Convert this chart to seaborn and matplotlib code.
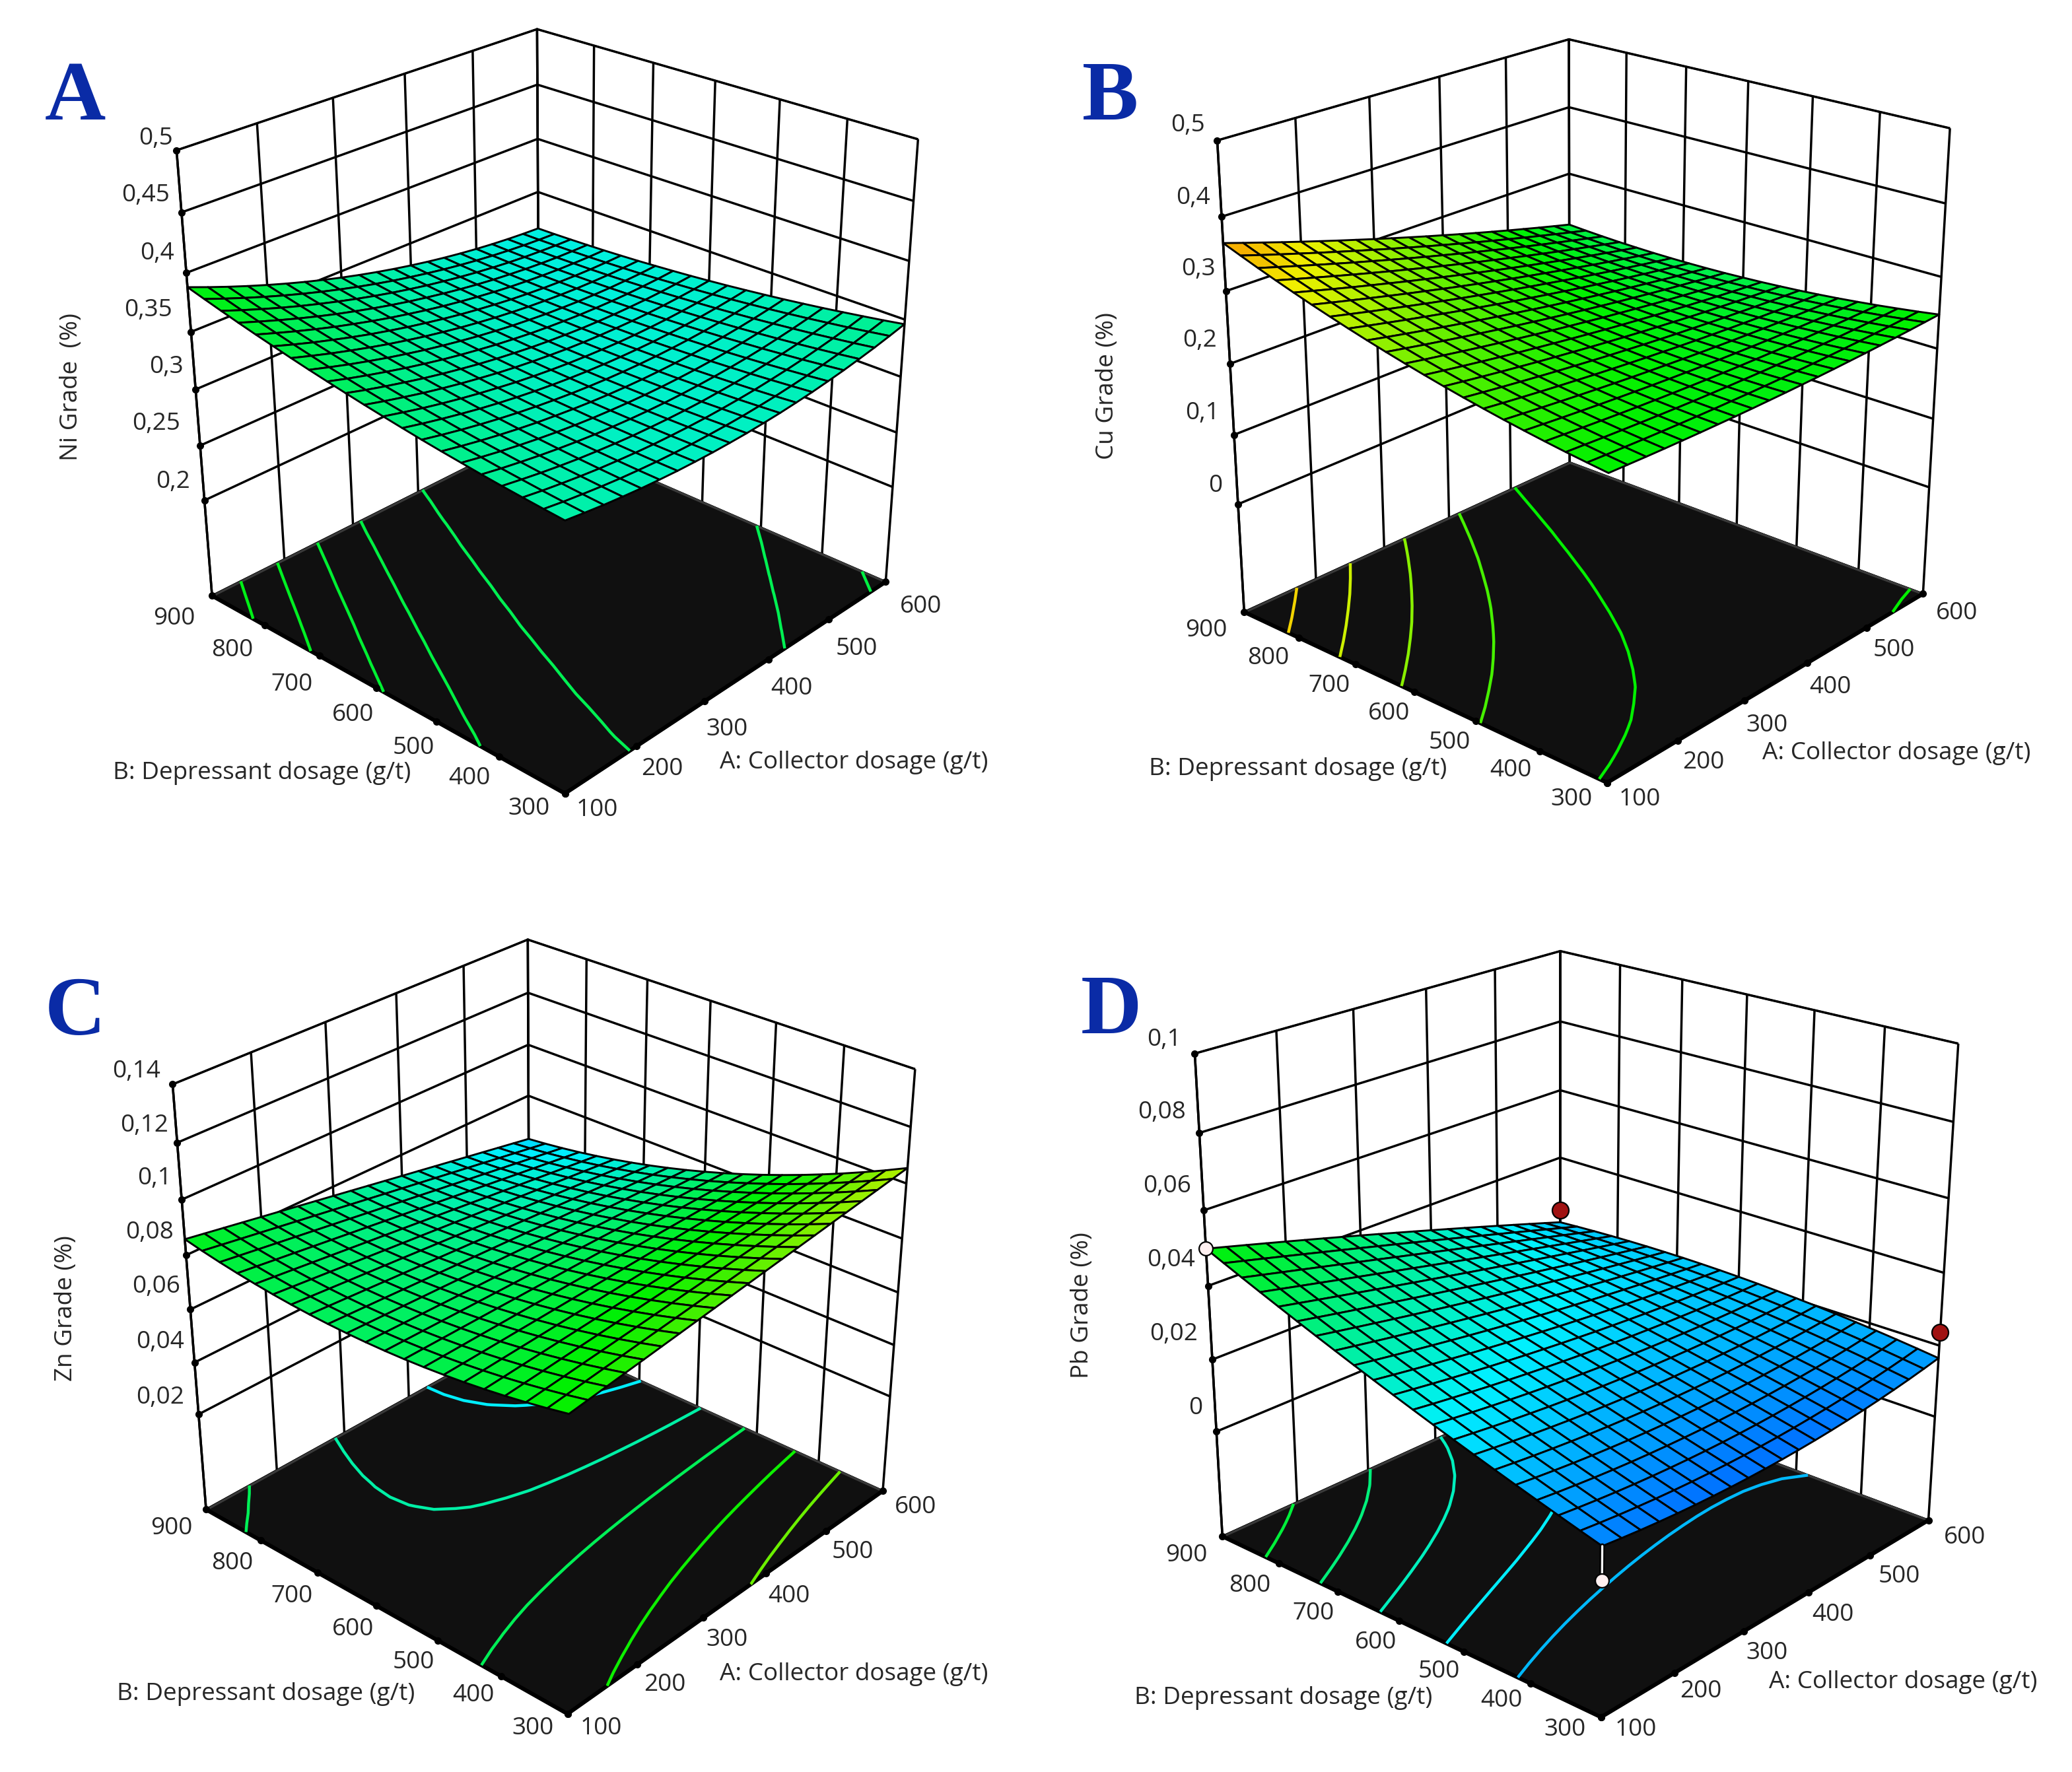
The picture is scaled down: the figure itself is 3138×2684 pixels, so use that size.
import numpy as np
import matplotlib
matplotlib.use('Agg')
import matplotlib.pyplot as plt
import seaborn as sns

sns.set_theme(style='white')
plt.rcParams['font.family'] = ['Open Sans', 'DejaVu Sans']
plt.rcParams['grid.color'] = 'black'
plt.rcParams['grid.linewidth'] = 1.25
plt.rcParams['axes.edgecolor'] = 'black'

# ---- factor levels -------------------------------------------------------
A_ticks = [100, 200, 300, 400, 500, 600]
B_ticks = [300, 400, 500, 600, 700, 800, 900]
A_grid = [100, 125, 150, 175, 200, 225, 250, 275, 300, 325, 350, 375, 400, 425, 450, 475, 500, 525, 550, 575, 600]
B_grid = [300, 330, 360, 390, 420, 450, 480, 510, 540, 570, 600, 630, 660, 690, 720, 750, 780, 810, 840, 870, 900]

# ---- response surfaces: rows follow B_grid, columns follow A_grid --------
# Ni and Cu are stored in units of 1e-4 %, Zn and Pb in units of 1e-5 %.
ni_grade = [
 [3360,3337,3316,3299,3284,3273,3264,3259,3256,3257,3260,3267,3276,3289,3304,3323,3344,3369,3396,3427,3460],
 [3373,3347,3325,3305,3288,3275,3264,3257,3252,3251,3252,3256,3264,3274,3288,3304,3324,3346,3371,3400,3431],
 [3387,3359,3335,3313,3294,3279,3266,3256,3250,3246,3245,3248,3253,3261,3273,3287,3304,3325,3348,3374,3404],
 [3402,3373,3346,3322,3301,3284,3269,3257,3249,3243,3240,3240,3244,3250,3259,3271,3287,3305,3326,3351,3378],
 [3419,3387,3359,3333,3310,3290,3273,3260,3249,3241,3236,3234,3236,3240,3247,3257,3270,3287,3306,3328,3353],
 [3438,3404,3373,3345,3320,3298,3279,3263,3251,3241,3234,3230,3229,3231,3236,3244,3256,3270,3287,3307,3330],
 [3457,3421,3388,3358,3331,3307,3287,3269,3254,3242,3233,3227,3224,3224,3227,3233,3242,3254,3269,3287,3308],
 [3478,3440,3405,3373,3344,3318,3295,3275,3258,3244,3233,3225,3220,3218,3219,3223,3230,3240,3253,3269,3288],
 [3501,3461,3424,3390,3358,3330,3305,3283,3264,3248,3235,3225,3218,3214,3212,3214,3219,3227,3238,3252,3269],
 [3525,3483,3443,3407,3374,3344,3317,3292,3271,3253,3238,3226,3217,3210,3207,3207,3210,3216,3225,3236,3251],
 [3550,3506,3465,3426,3391,3359,3330,3303,3280,3260,3243,3228,3217,3209,3204,3201,3202,3206,3213,3222,3235],
 [3577,3530,3487,3447,3409,3375,3344,3315,3290,3268,3248,3232,3219,3208,3201,3197,3196,3197,3202,3210,3220],
 [3605,3556,3511,3469,3429,3393,3359,3329,3302,3277,3256,3237,3222,3210,3200,3194,3190,3190,3193,3198,3207],
 [3634,3584,3536,3492,3450,3412,3376,3344,3315,3288,3265,3244,3227,3212,3201,3192,3187,3184,3185,3188,3195],
 [3665,3613,3563,3517,3473,3432,3395,3360,3329,3300,3275,3252,3233,3216,3203,3192,3184,3180,3178,3180,3184],
 [3698,3643,3591,3543,3497,3454,3415,3378,3345,3314,3286,3262,3240,3221,3206,3193,3184,3177,3173,3173,3175],
 [3731,3675,3621,3570,3522,3478,3436,3397,3362,3329,3299,3273,3249,3228,3210,3196,3184,3175,3170,3167,3167],
 [3766,3708,3652,3599,3549,3502,3459,3418,3380,3345,3314,3285,3259,3236,3216,3200,3186,3175,3167,3163,3161],
 [3803,3742,3684,3629,3577,3529,3483,3440,3400,3363,3329,3298,3271,3246,3224,3205,3189,3176,3167,3160,3156],
 [3841,3778,3718,3661,3607,3556,3508,3463,3421,3382,3346,3314,3284,3257,3233,3212,3194,3179,3167,3158,3152],
 [3880,3815,3753,3694,3638,3585,3535,3488,3444,3403,3365,3330,3298,3269,3243,3220,3200,3183,3169,3158,3150],
]
cu_grade = [
 [2438,2429,2420,2413,2408,2403,2400,2397,2396,2397,2398,2401,2404,2409,2416,2423,2432,2441,2452,2465,2478],
 [2469,2456,2444,2433,2424,2415,2408,2402,2398,2394,2392,2391,2391,2392,2395,2399,2404,2410,2417,2426,2435],
 [2502,2486,2470,2456,2443,2431,2420,2410,2402,2395,2389,2384,2381,2378,2377,2377,2378,2381,2385,2389,2396],
 [2539,2519,2500,2482,2465,2449,2435,2422,2410,2399,2389,2381,2374,2368,2363,2359,2357,2355,2355,2357,2359],
 [2579,2555,2532,2511,2490,2471,2453,2436,2420,2406,2392,2380,2369,2360,2351,2344,2338,2333,2329,2327,2326],
 [2622,2595,2568,2543,2519,2496,2474,2453,2434,2416,2399,2383,2369,2355,2343,2332,2322,2314,2306,2300,2295],
 [2669,2637,2607,2578,2550,2524,2498,2474,2451,2429,2409,2389,2371,2354,2338,2323,2310,2298,2287,2277,2268],
 [2718,2683,2649,2617,2585,2555,2526,2498,2471,2446,2421,2398,2376,2356,2336,2318,2301,2285,2270,2257,2244],
 [2771,2732,2694,2658,2623,2589,2556,2525,2494,2465,2437,2410,2385,2361,2337,2315,2295,2275,2257,2240,2224],
 [2827,2784,2743,2703,2664,2626,2590,2555,2521,2488,2456,2426,2397,2369,2342,2316,2292,2268,2246,2226,2206],
 [2886,2839,2795,2751,2708,2667,2627,2588,2550,2514,2479,2444,2412,2380,2349,2320,2292,2265,2239,2215,2192],
 [2948,2898,2849,2802,2756,2711,2667,2624,2583,2543,2504,2466,2430,2394,2360,2327,2295,2265,2235,2207,2180],
 [3013,2959,2907,2856,2806,2758,2710,2664,2619,2575,2532,2491,2451,2412,2374,2337,2302,2267,2234,2203,2172],
 [3081,3024,2968,2913,2860,2808,2756,2707,2658,2610,2564,2519,2475,2432,2391,2350,2311,2273,2237,2201,2167],
 [3153,3092,3032,2974,2917,2861,2806,2752,2700,2649,2599,2550,2503,2456,2411,2367,2324,2283,2242,2203,2165],
 [3227,3163,3100,3038,2977,2917,2859,2801,2745,2690,2637,2584,2533,2483,2434,2387,2340,2295,2251,2208,2166],
 [3305,3237,3170,3104,3040,2977,2914,2854,2794,2735,2678,2622,2567,2513,2461,2409,2359,2310,2263,2216,2171],
 [3386,3314,3244,3174,3106,3039,2973,2909,2845,2783,2722,2662,2604,2547,2490,2435,2381,2329,2278,2227,2178],
 [3470,3395,3321,3248,3176,3105,3036,2967,2900,2834,2770,2706,2644,2583,2523,2464,2407,2351,2296,2242,2189],
 [3558,3478,3400,3324,3248,3174,3101,3029,2958,2889,2820,2753,2687,2622,2559,2497,2435,2376,2317,2259,2203],
 [3648,3565,3484,3403,3324,3246,3169,3094,3019,2946,2874,2803,2734,2665,2598,2532,2467,2404,2341,2280,2220],
]
zn_grade = [
 [8860,8945,9029,9114,9198,9283,9367,9452,9536,9621,9705,9790,9874,9959,10043,10128,10212,10297,10381,10466,10550],
 [8706,8781,8855,8930,9004,9079,9153,9228,9302,9377,9451,9526,9600,9675,9749,9824,9898,9973,10047,10122,10196],
 [8567,8632,8696,8761,8825,8890,8954,9019,9083,9148,9212,9277,9341,9406,9470,9535,9599,9664,9728,9793,9857],
 [8443,8498,8552,8607,8661,8716,8770,8825,8879,8934,8988,9043,9097,9152,9206,9261,9315,9370,9424,9479,9533],
 [8334,8378,8423,8467,8512,8556,8601,8645,8690,8734,8779,8823,8868,8912,8957,9001,9046,9090,9135,9179,9224],
 [8239,8273,8308,8342,8377,8411,8446,8480,8515,8549,8584,8618,8653,8687,8722,8756,8791,8825,8860,8894,8929],
 [8159,8183,8208,8232,8257,8281,8306,8330,8355,8379,8404,8428,8453,8477,8502,8526,8551,8575,8600,8624,8649],
 [8093,8108,8122,8137,8151,8166,8180,8195,8209,8224,8238,8253,8267,8282,8296,8311,8325,8340,8354,8369,8383],
 [8042,8047,8051,8056,8060,8065,8069,8074,8078,8083,8087,8092,8096,8101,8105,8110,8114,8119,8123,8128,8132],
 [8006,8001,7995,7990,7984,7979,7973,7968,7962,7957,7951,7946,7940,7935,7929,7924,7918,7913,7907,7902,7896],
 [7985,7970,7954,7939,7923,7908,7892,7877,7861,7846,7830,7815,7799,7784,7768,7753,7737,7722,7706,7691,7675],
 [7978,7953,7927,7902,7876,7851,7825,7800,7774,7749,7723,7698,7672,7647,7621,7596,7570,7545,7519,7494,7468],
 [7986,7951,7915,7880,7844,7809,7773,7738,7702,7667,7631,7596,7560,7525,7489,7454,7418,7383,7347,7312,7276],
 [8009,7964,7918,7873,7827,7782,7736,7691,7645,7600,7554,7509,7463,7418,7372,7327,7281,7236,7190,7145,7099],
 [8047,7991,7936,7880,7825,7769,7714,7658,7603,7547,7492,7436,7381,7325,7270,7214,7159,7103,7048,6992,6937],
 [8099,8033,7968,7902,7837,7771,7706,7640,7575,7509,7444,7378,7313,7247,7182,7116,7051,6985,6920,6854,6789],
 [8166,8090,8015,7939,7864,7788,7713,7637,7562,7486,7411,7335,7260,7184,7109,7033,6958,6882,6807,6731,6656],
 [8247,8162,8076,7991,7905,7820,7734,7649,7563,7478,7392,7307,7221,7136,7050,6965,6879,6794,6708,6623,6537],
 [8343,8248,8152,8057,7961,7866,7770,7675,7579,7484,7388,7293,7197,7102,7006,6911,6815,6720,6624,6529,6433],
 [8454,8349,8243,8138,8032,7927,7821,7716,7610,7505,7399,7294,7188,7083,6977,6872,6766,6661,6555,6450,6344],
 [8580,8465,8349,8234,8118,8003,7887,7772,7656,7541,7425,7310,7194,7079,6963,6848,6732,6617,6501,6386,6270],
]
pb_grade = [
 [1380,1323,1272,1230,1195,1167,1147,1134,1129,1132,1141,1159,1183,1215,1255,1302,1357,1419,1488,1566,1650],
 [1532,1475,1424,1381,1344,1315,1293,1278,1270,1268,1274,1287,1307,1335,1369,1410,1458,1514,1576,1645,1722],
 [1687,1629,1578,1533,1495,1464,1439,1421,1409,1404,1406,1414,1429,1451,1479,1514,1556,1604,1659,1720,1788],
 [1845,1786,1734,1687,1647,1613,1586,1564,1549,1540,1537,1540,1549,1565,1587,1615,1649,1690,1737,1790,1849],
 [2006,1946,1892,1843,1801,1764,1733,1707,1688,1674,1666,1664,1667,1677,1692,1713,1739,1772,1810,1854,1904],
 [2170,2108,2052,2001,1955,1915,1880,1851,1826,1808,1794,1786,1783,1786,1794,1807,1826,1850,1879,1914,1954],
 [2337,2273,2214,2160,2111,2067,2028,1994,1965,1940,1921,1906,1897,1892,1893,1898,1908,1923,1943,1968,1998],
 [2507,2441,2379,2321,2269,2220,2177,2137,2102,2072,2046,2025,2008,1996,1988,1985,1987,1992,2003,2017,2037],
 [2680,2611,2545,2484,2427,2374,2325,2281,2240,2203,2171,2142,2118,2098,2081,2069,2061,2057,2057,2062,2070],
 [2856,2783,2714,2649,2587,2529,2475,2424,2377,2334,2294,2258,2225,2197,2171,2150,2132,2118,2108,2101,2098],
 [3035,2959,2885,2815,2748,2685,2625,2567,2514,2463,2416,2371,2331,2293,2258,2227,2199,2175,2153,2135,2120],
 [3217,3136,3058,2983,2911,2841,2775,2711,2650,2592,2536,2484,2434,2387,2343,2301,2263,2227,2194,2164,2137],
 [3402,3317,3234,3153,3075,2999,2925,2854,2786,2719,2655,2594,2535,2478,2424,2372,2322,2275,2230,2188,2148],
 [3590,3500,3411,3324,3240,3157,3077,2998,2921,2846,2774,2703,2634,2567,2502,2439,2378,2319,2262,2207,2154],
 [3781,3685,3591,3498,3406,3316,3228,3141,3056,2972,2890,2810,2731,2653,2577,2503,2430,2359,2289,2221,2154],
 [3975,3873,3772,3673,3574,3477,3380,3285,3191,3098,3006,2915,2826,2737,2650,2563,2478,2394,2311,2229,2149],
 [4172,4064,3956,3849,3743,3637,3533,3428,3325,3222,3120,3019,2918,2818,2719,2620,2523,2425,2329,2233,2138],
 [4372,4257,4142,4028,3913,3799,3686,3572,3459,3346,3233,3121,3009,2897,2785,2674,2563,2452,2342,2232,2122],
 [4575,4453,4330,4208,4085,3962,3839,3716,3592,3469,3345,3221,3097,2973,2849,2724,2600,2475,2350,2225,2100],
 [4781,4651,4521,4390,4258,4126,3993,3859,3725,3591,3456,3320,3184,3047,2909,2771,2633,2494,2354,2214,2073],
 [4990,4852,4713,4573,4432,4290,4147,4003,3858,3712,3565,3417,3268,3118,2967,2815,2662,2508,2353,2197,2040],
]

# ---- vertical axes, contour levels and colour limits ---------------------
ni_ticks = [.2, .25, .3, .35, .4, .45, .5]
cu_ticks = [0, .1, .2, .3, .4, .5]
zn_ticks = [.02, .04, .06, .08, .1, .12, .14]
pb_ticks = [0, .02, .04, .06, .08, .1]
ni_labels = ['0,2', '0,25', '0,3', '0,35', '0,4', '0,45', '0,5']
cu_labels = ['0', '0,1', '0,2', '0,3', '0,4', '0,5']
zn_labels = ['0,02', '0,04', '0,06', '0,08', '0,1', '0,12', '0,14']
pb_labels = ['0', '0,02', '0,04', '0,06', '0,08', '0,1']
ni_levels = [.329, .3425, .354, .366, .378]
cu_levels = [.245, .269, .293, .317, .341]
zn_levels = [.0706, .0772, .083, .0905, .0979]
pb_levels = [.02, .026, .0322, .0384, .0446]

# Pb design points: two above the surface, two at or below it
pb_hi_A = [600, 600]
pb_hi_B = [900, 300]
pb_hi_Z = [.024, .0236]
pb_lo_A = [100, 100]
pb_lo_B = [900, 300]
pb_lo_Z = [.0499, .0052]

# ---- figure layout -------------------------------------------------------
FW, FH = 3138, 2684
DPI = 200
S = 3138 / 1568

PANELS = {
 'A': dict(z=ni_grade, unit=1e-4, ticks=ni_ticks, labels=ni_labels, levels=ni_levels,
      cam=(26.541, -136.998, .163, .51, 1.0074, 1.0097, 181.3, 1461.1, 1268.3), floor=.11, top=.5,
      clim=(.224, .552), line_clim=(-.006, .794),
      zp=[(131,365),(118,321),(126,278),(112,235),(119,192),(110,148),(118,105)],
      xp=[(452,613),(501,582),(550,552),(599,521),(648,491),(697,459)],
      yp=[(400,612),(355,589),(313,566),(267,541),(221,518),(176,492),(132,468)],
      al=(646,577), bl=(198,585), zlab=('Ni Grade  (%)',54,293), let=(57,70)),
 'B': dict(z=cu_grade, unit=1e-4, ticks=cu_ticks, labels=cu_labels, levels=cu_levels,
      cam=(22.477, -138.275, -.053, .5564, .9882, .9833, 1746.5, 1456.3, 1277.3), floor=-.16, top=.5,
      clim=(.0714, .4162), line_clim=(.0714, .4162),
      zp=[(920,368),(910,313),(908,258),(907,204),(903,150),(899,95)],
      xp=[(1241,605),(1289,577),(1337,549),(1385,520),(1433,492),(1481,464)],
      yp=[(1189,605),(1143,583),(1097,562),(1051,540),(1006,519),(960,498),(913,477)],
      al=(1435,570), bl=(982,582), zlab=('Cu Grade (%)',838,292), let=(840,70)),
 'C': dict(z=zn_grade, unit=1e-5, ticks=zn_ticks, labels=zn_labels, levels=zn_levels,
      cam=(29.408, -137.963, .027, .5703, 1.0295, 1.0369, 178.7, 69.1, 1262.9), floor=-.018, top=.14,
      clim=(.0431, .1324), line_clim=(.0518, .127),
      zp=[(121,1058),(121,1016),(118,974),(113,933),(117,892),(109,852),(103,811)],
      xp=[(455,1308),(503,1275),(550,1241),(597,1208),(645,1175),(693,1141)],
      yp=[(403,1308),(358,1283),(313,1258),(267,1233),(221,1208),(176,1183),(130,1157)],
      al=(646,1267), bl=(201,1282), zlab=('Zn Grade (%)',50,990), let=(57,763)),
 'D': dict(z=pb_grade, unit=1e-5, ticks=pb_ticks, labels=pb_labels, levels=pb_levels,
      cam=(22.453, -138.277, -.188, .5359, 1.0011, 1.0035, 1712.1, 39.5, 1321.9), floor=-.03, top=.1,
      clim=(.0023, .0975), line_clim=(.0023, .0975),
      zp=[(905,1066),(888,1010),(886,954),(883,898),(879,842),(881,787)],
      xp=[(1238,1309),(1287,1280),(1337,1251),(1387,1222),(1437,1193),(1487,1164)],
      yp=[(1184,1309),(1136,1287),(1089,1265),(1041,1243),(994,1221),(946,1200),(898,1177)],
      al=(1440,1273), bl=(971,1285), zlab=('Pb Grade (%)',819,988), let=(841,762)),
}

fig = plt.figure(figsize=(FW/DPI, FH/DPI), dpi=DPI, facecolor='white')
cmap = sns.blend_palette(['#0020ff', '#00f0ff', '#00f000', '#f0f000', '#ff2000'], as_cmap=True)


def px(x, y):
    """Figure fraction from a position on a 1568-wide layout grid."""
    return x*S/FW, 1 - y*S/FH


def plot3(ax, xs, ys, zs, *args, **kw):
    line = ax.plot(xs, ys, zs, *args, **kw)[0]
    line.set_clip_on(False)


for key, d in PANELS.items():
    el, az, ro, f, asx, asy, left, bottom, W = d['cam']
    ax = fig.add_axes([left/FW, bottom/FH, W/FW, W/FH], projection='3d', proj_type='persp',
                      focal_length=f, computed_zorder=False)
    ax.patch.set_visible(False)
    fl = d['floor']
    ax.set_xlim(A_ticks[0], A_ticks[-1])
    ax.set_ylim(B_ticks[0], B_ticks[-1])
    ax.set_zlim(fl, d['top'])
    ax.view_init(elev=el, azim=az, roll=ro)
    ax.set_box_aspect((asx, asy, 1))
    ax.set_xticks(A_ticks, labels=[])
    ax.set_yticks(B_ticks, labels=[])
    ax.set_zticks(d['ticks'], labels=[])
    ax.tick_params(color='none', labelcolor='none')
    ax.xaxis.set_pane_color('white')
    ax.yaxis.set_pane_color('white')
    ax.zaxis.set_pane_color('#101010')
    for a in (ax.xaxis, ax.yaxis, ax.zaxis):
        a.line.set_color('black')
        a.line.set_linewidth(1.25)
        a.pane.set_edgecolor('black')

    Xg, Yg = np.meshgrid(A_grid, B_grid)
    Z = np.array(d['z'], float) * d['unit']
    vmin, vmax = d['clim']

    # dark floor that carries the projected contours
    fx, fy = np.meshgrid([A_ticks[0], A_ticks[-1]], [B_ticks[0], B_ticks[-1]])
    base = ax.plot_surface(fx, fy, np.full(fx.shape, fl), color='#101010', edgecolor='#3a3a3a',
                           linewidth=1.2, shade=False, zorder=1)
    base.set_clip_on(False)
    plot3(ax, A_ticks, [B_ticks[0]]*6, [fl]*6, color='black', lw=2.2, zorder=2)
    plot3(ax, [A_ticks[0]]*7, B_ticks, [fl]*7, color='black', lw=2.2, zorder=2)

    cs = ax.contour(Xg, Yg, Z, levels=d['levels'], zdir='z', offset=fl, cmap=cmap,
                    vmin=d['line_clim'][0], vmax=d['line_clim'][1], linewidths=1.6, zorder=3)
    cs.set_clip_on(False)

    surf = ax.plot_surface(Xg, Yg, Z, cmap=cmap, vmin=vmin, vmax=vmax, rstride=1, cstride=1,
                           edgecolor='black', linewidth=1.05, shade=False, zorder=5)
    surf.set_clip_on(False)

    # tick dots along the box edges
    zt = d['ticks']
    plot3(ax, A_ticks, [B_ticks[0]]*6, [fl]*6, 'o', color='black', ms=3.0, ls='none', zorder=6)
    plot3(ax, [A_ticks[0]]*7, B_ticks, [fl]*7, 'o', color='black', ms=3.0, ls='none', zorder=6)
    plot3(ax, [A_ticks[0]]*len(zt), [B_ticks[-1]]*len(zt), zt, 'o', color='black', ms=3.0, ls='none', zorder=6)

    if key == 'D':
        corner = Z[0][0]
        plot3(ax, pb_lo_A[1:], pb_lo_B[1:], pb_lo_Z[1:], 'o', color='none', ls='none', zorder=6)
        plot3(ax, [pb_lo_A[1]]*2, [pb_lo_B[1]]*2, [corner, pb_lo_Z[1]], color='black', lw=3, zorder=6)
        plot3(ax, [pb_lo_A[1]]*2, [pb_lo_B[1]]*2, [corner, pb_lo_Z[1]], color='#f2f2f2', lw=1.2, zorder=7)
        plot3(ax, pb_hi_A, pb_hi_B, pb_hi_Z, 'o', color='#a01212', mec='black', mew=.8, ms=9, ls='none', zorder=8)
        plot3(ax, pb_lo_A, pb_lo_B, pb_lo_Z, 'o', color='#fff0f0', mec='black', mew=.8, ms=7.5, ls='none', zorder=8)

    for lab, p in zip(d['labels'], d['zp']):
        fig.text(*px(*p), lab, ha='center', va='center', fontsize=13.3)
    for lab, p in zip(A_ticks, d['xp']):
        fig.text(*px(*p), str(lab), ha='center', va='center', fontsize=13.3)
    for lab, p in zip(B_ticks, d['yp']):
        fig.text(*px(*p), str(lab), ha='center', va='center', fontsize=13.3)
    fig.text(*px(*d['al']), 'A: Collector dosage (g/t)', ha='center', va='center', fontsize=13.3)
    fig.text(*px(*d['bl']), 'B: Depressant dosage (g/t)', ha='center', va='center', fontsize=13.3)
    fig.text(*px(*d['zlab'][1:]), d['zlab'][0], ha='center', va='center', rotation=90, fontsize=13.3)
    lx, ly = d['let']
    fig.text(*px(lx, ly+5), key, ha='center', va='center', fontsize=46, fontweight='bold',
             family='Liberation Serif', color='#0a2ba6')

fig.savefig('out.png', dpi=DPI, facecolor='white')
